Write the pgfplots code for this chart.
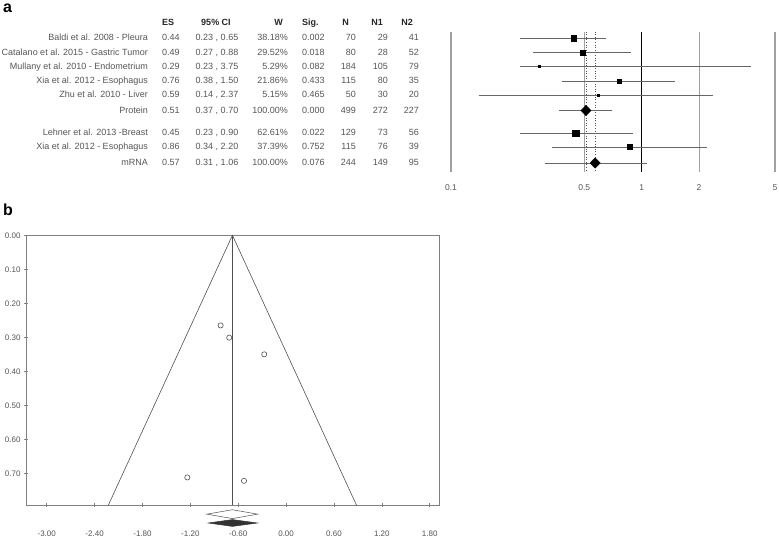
\documentclass[border=0pt]{standalone}
\usepackage{pgfplots}
\pgfplotsset{compat=1.18}
\usepackage{fontspec}
\setmainfont{Liberation Sans}
\definecolor{txt}{HTML}{555555}
\definecolor{gridc}{HTML}{A0A0A0}
\definecolor{cic}{HTML}{505050}
\definecolor{cil}{HTML}{666666}
\newcommand{\trow}[9]{%
  \node[anchor=mid east] at (148pt,539pt-#1pt) {#2};
  \node[anchor=mid west] at (162pt,539pt-#1pt) {#3};
  \node[anchor=mid] at (217pt,539pt-#1pt) {#4};
  \node[anchor=mid east] at (288pt,539pt-#1pt) {#5};
  \node[anchor=mid west] at (302pt,539pt-#1pt) {#6};
  \node[anchor=mid east] at (356pt,539pt-#1pt) {#7};
  \node[anchor=mid east] at (388pt,539pt-#1pt) {#8};
  \node[anchor=mid east] at (419pt,539pt-#1pt) {#9};
}
\begin{document}
\begin{tikzpicture}
\path (0pt,0pt) rectangle (779pt,539pt);
\node[anchor=north west,inner sep=0,font=\bfseries\fontsize{16}{16}\selectfont] at (3pt,535pt) {a};
\node[anchor=north west,inner sep=0,font=\bfseries\fontsize{16}{16}\selectfont] at (3pt,335pt) {b};
% table
\begin{scope}[every node/.style={inner sep=0,font=\bfseries\fontsize{9}{10}\selectfont,text=black!85}]
  \node[anchor=mid west] at (162pt,516pt) {ES};
  \node[anchor=mid] at (216pt,516pt) {95\% CI};
  \node[anchor=mid east] at (283pt,516pt) {W};
  \node[anchor=mid west] at (302pt,516pt) {Sig.};
  \node[anchor=mid east] at (349pt,516pt) {N};
  \node[anchor=mid east] at (383pt,516pt) {N1};
  \node[anchor=mid east] at (413pt,516pt) {N2};
\end{scope}
\begin{scope}[every node/.style={inner sep=0,font=\fontsize{9}{10}\selectfont,text=txt}]
  \trow{38.3}{Baldi et al. 2008 - Pleura}{0.44}{0.23 , 0.65}{38.18\%}{0.002}{70}{29}{41}
  \trow{52.5}{Catalano et al. 2015 - Gastric Tumor}{0.49}{0.27 , 0.88}{29.52\%}{0.018}{80}{28}{52}
  \trow{66.5}{Mullany et al. 2010 - Endometrium}{0.29}{0.23 , 3.75}{5.29\%}{0.082}{184}{105}{79}
  \trow{81}{Xia et al. 2012 - Esophagus}{0.76}{0.38 , 1.50}{21.86\%}{0.433}{115}{80}{35}
  \trow{95.2}{Zhu et al. 2010 - Liver}{0.59}{0.14 , 2.37}{5.15\%}{0.465}{50}{30}{20}
  \trow{110.5}{Protein}{0.51}{0.37 , 0.70}{100.00\%}{0.000}{499}{272}{227}
  \trow{133.3}{Lehner et al. 2013 -Breast}{0.45}{0.23 , 0.90}{62.61\%}{0.022}{129}{73}{56}
  \trow{147}{Xia et al. 2012 - Esophagus}{0.86}{0.34 , 2.20}{37.39\%}{0.752}{115}{76}{39}
  \trow{163}{mRNA}{0.57}{0.31 , 1.06}{100.00\%}{0.076}{244}{149}{95}
\end{scope}
% forest plot
\begin{axis}[at={(613pt,437.3pt)}, anchor=center, scale only axis, width=324pt, height=140pt,
  xmode=log, xmin=0.1, xmax=5, ymin=31.7, ymax=171.7, y dir=reverse, hide axis, clip=false]
  \addplot[gridc, line width=1.1pt] coordinates {(0.1,31.7) (0.1,171.7)};
  \addplot[gridc, line width=1.1pt] coordinates {(0.5,31.7) (0.5,171.7)};
  \addplot[gridc, line width=1.1pt] coordinates {(2,31.7) (2,171.7)};
  \addplot[gridc, line width=1.1pt] coordinates {(5,31.7) (5,171.7)};
  \addplot[black, line width=1.5pt] coordinates {(1,31.7) (1,171.7)};
  \addplot[cic, dotted, line width=0.6pt] coordinates {(0.51,31.7) (0.51,171.7)};
  \addplot[cic, dotted, line width=0.6pt] coordinates {(0.57,31.7) (0.57,171.7)};
  % CIs
  \addplot[cil, line width=0.6pt] coordinates {(0.23,38.3) (0.65,38.3)};
  \addplot[cil, line width=0.6pt] coordinates {(0.27,52.5) (0.88,52.5)};
  \addplot[cil, line width=0.6pt] coordinates {(0.23,66.5) (3.75,66.5)};
  \addplot[cil, line width=0.6pt] coordinates {(0.38,81) (1.50,81)};
  \addplot[cil, line width=0.6pt] coordinates {(0.14,95.2) (2.37,95.2)};
  \addplot[cil, line width=0.6pt] coordinates {(0.37,110.5) (0.70,110.5)};
  \addplot[cil, line width=0.6pt] coordinates {(0.23,133.3) (0.90,133.3)};
  \addplot[cil, line width=0.6pt] coordinates {(0.34,147) (2.20,147)};
  \addplot[cil, line width=0.6pt] coordinates {(0.31,163) (1.06,163)};
  % study markers
  \addplot[only marks, mark=square*, mark size=2.6pt, black] coordinates {(0.44,38.3)};
  \addplot[only marks, mark=square*, mark size=2.3pt, black] coordinates {(0.49,52.5)};
  \addplot[only marks, mark=square*, mark size=0.9pt, black] coordinates {(0.29,66.5)};
  \addplot[only marks, mark=square*, mark size=1.9pt, black] coordinates {(0.76,81)};
  \addplot[only marks, mark=square*, mark size=0.9pt, black] coordinates {(0.59,95.2)};
  \addplot[only marks, mark=square*, mark size=3.2pt, black] coordinates {(0.45,133.3)};
  \addplot[only marks, mark=square*, mark size=2.5pt, black] coordinates {(0.86,147)};
  % pooled diamonds
  \addplot[fill=black, draw=black] coordinates {(0.480,110.5) (0.51,105.3) (0.542,110.5) (0.51,115.7)} -- cycle;
  \addplot[fill=black, draw=black] coordinates {(0.536,163) (0.57,157.8) (0.606,163) (0.57,168.2)} -- cycle;
  \node[font=\fontsize{8.5}{10}\selectfont,text=txt,inner sep=0] at (axis cs:0.1,188) {0.1};
  \node[font=\fontsize{8.5}{10}\selectfont,text=txt,inner sep=0] at (axis cs:0.5,188) {0.5};
  \node[font=\fontsize{8.5}{10}\selectfont,text=txt,inner sep=0] at (axis cs:1,188) {1};
  \node[font=\fontsize{8.5}{10}\selectfont,text=txt,inner sep=0] at (axis cs:2,188) {2};
  \node[font=\fontsize{8.5}{10}\selectfont,text=txt,inner sep=0] at (axis cs:5,188) {5};
\end{axis}
% funnel plot
\begin{axis}[at={(232.65pt,168.7pt)}, anchor=center, scale only axis, width=413.3pt, height=270pt,
  xmin=-3.26, xmax=1.92, ymin=0, ymax=0.794, y dir=reverse, clip=false,
  axis line style={draw=black!50, line width=0.8pt},
  xtick={-3,-2.4,-1.8,-1.2,-0.6,0,0.6,1.2,1.8},
  ytick={0,0.1,0.2,0.3,0.4,0.5,0.6,0.7},
  xtick pos=bottom, ytick pos=left,
  tick align=center, major tick length=4pt, tick style={black!50, line width=0.6pt},
  xticklabel style={yshift=-20pt},
  ticklabel style={font=\fontsize{8}{9}\selectfont, text=txt},
  /pgf/number format/.cd, fixed, fixed zerofill, precision=2, assume math mode=true]
  \addplot[cic, line width=0.6pt] coordinates {(-2.229,0.794) (-0.673,0) (0.883,0.794)};
  \addplot[cic, line width=0.6pt] coordinates {(-0.673,0) (-0.673,0.794)};
  \addplot[only marks, mark=o, mark size=2.6pt, cic, mark options={line width=0.6pt}] coordinates {
    (-0.821,0.265) (-0.713,0.301) (-0.274,0.350) (-1.238,0.712) (-0.528,0.722)};
  \addplot[draw=cic, fill=white, line width=0.5pt] coordinates {(-0.994,0.820) (-0.673,0.807) (-0.357,0.820) (-0.673,0.833)} -- cycle;
  \addplot[draw=black!80, fill=black!80, line width=0.5pt] coordinates {(-0.975,0.846) (-0.673,0.836) (-0.36,0.846) (-0.673,0.856)} -- cycle;
\end{axis}
\end{tikzpicture}
\end{document}
